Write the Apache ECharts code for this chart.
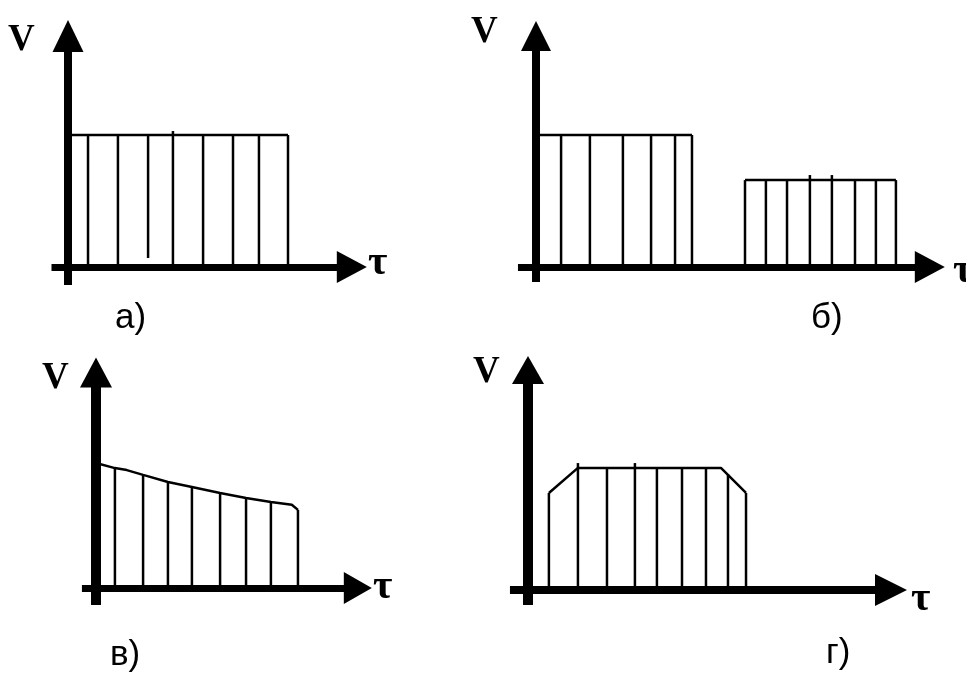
<!DOCTYPE html>
<html>
<head>
<meta charset="utf-8">
<script src="https://cdn.jsdelivr.net/npm/echarts@6/dist/echarts.min.js"></script>
<style>
html,body{margin:0;padding:0;background:#fff;}
#c{width:966px;height:673px;}
</style>
</head>
<body>
<div id="c"></div>
<script>
// ---- data (τ in relative units, V in relative units) ----
// panel а): constant velocity
const aTau  = [0.91, 2.27, 3.64, 4.77, 6.14, 7.5, 8.68, 10];
const aTop  = [6, 6, 6, 6.18, 6, 6, 6, 6];
const aBase = [0, 0, 0.41, 0, 0, 0, 0, 0];
const aEdgeTau = [0, 10];
const aEdgeV   = [6, 6];

// panel б): two stages
const bTau  = [1.14, 2.45, 3.95, 5.23, 6.32, 7.09, 9.5, 10.45, 11.41, 12.45, 13.45, 14.5, 15.45, 16.36];
const bTop  = [6, 6, 6, 6, 6, 6, 3.95, 3.95, 3.95, 4.18, 4.18, 3.95, 3.95, 3.95];
const bBase = [0, 0, 0, 0, 0, 0, 0, 0, 0, 0, 0, 0, 0, 0];
const bEdge1Tau = [0, 7.09];
const bEdge1V   = [6, 6];
const bEdge2Tau = [9.5, 16.36];
const bEdge2V   = [3.95, 3.95];

// panel в): decreasing
const vTau  = [0.86, 2.14, 3.27, 4.36, 5.64, 6.82, 7.95, 9.18];
const vTop  = [5.45, 5.14, 4.82, 4.59, 4.32, 4.09, 3.91, 3.55];
const vBase = [0, 0, 0, 0, 0, 0, 0, 0];
const vEdgeTau = [0, 0.86, 1.4, 2.14, 3.27, 4.36, 5.64, 6.82, 7.95, 8.9, 9.18];
const vEdgeV   = [5.68, 5.45, 5.36, 5.14, 4.82, 4.59, 4.32, 4.09, 3.91, 3.78, 3.55];

// panel г): ramp up, constant, ramp down
const gTau  = [0.95, 2.27, 3.59, 4.86, 5.86, 7.0, 8.09, 9.09, 9.91];
const gTop  = [4.41, 5.77, 5.55, 5.77, 5.55, 5.55, 5.55, 5.26, 4.41];
const gBase = [0, 0, 0, 0, 0, 0, 0, 0, 0];
const gEdgeTau = [0.95, 2.27, 8.77, 9.91];
const gEdgeV   = [4.41, 5.55, 5.55, 4.41];

const panelLabels = ['а)', 'б)', 'в)', 'г)'];
const yName = 'V';
const xName = 'τ';

// ---- layout ----
const S = 22; // px per unit
const layouts = [
  {origin:[68,267],  x:[-0.75,12.9], y:[-0.82,10.5], ax:[32,30], ay:[31,32], wx:7, wy:8},
  {origin:[536,267], x:[-0.82,17.9], y:[-0.68,10.5], ax:[32,30], ay:[30,30], wx:7, wy:8},
  {origin:[96,588],  x:[-0.64,11.9], y:[-0.77,9.8],  ax:[32,28], ay:[32,30], wx:7, wy:10},
  {origin:[528,590], x:[-0.82,16.5], y:[-0.68,10.0], ax:[32,32], ay:[32,28], wx:8, wy:10}
];

function zip2(a,b){ return a.map((v,i)=>[v,b[i]]); }
function zip3(a,b,c){ return a.map((v,i)=>[v,b[i],c[i]]); }

const grids=[], xAxes=[], yAxes=[], series=[];
layouts.forEach((L,i)=>{
  grids.push({
    left: L.origin[0] + L.x[0]*S,
    width: (L.x[1]-L.x[0])*S,
    top: L.origin[1] - L.y[1]*S,
    height: (L.y[1]-L.y[0])*S,
    containLabel:false
  });
  xAxes.push({gridIndex:i, type:'value', min:L.x[0], max:L.x[1],
    axisLine:{show:true, onZero:true, symbol:['none','triangle'], symbolSize:L.ax, lineStyle:{color:'#000', width:L.wx, cap:'butt'}},
    axisTick:{show:false}, axisLabel:{show:false}, splitLine:{show:false}});
  yAxes.push({gridIndex:i, type:'value', min:L.y[0], max:L.y[1],
    axisLine:{show:true, onZero:true, symbol:['none','triangle'], symbolSize:L.ay, lineStyle:{color:'#000', width:L.wy, cap:'butt'}},
    axisTick:{show:false}, axisLabel:{show:false}, splitLine:{show:false}});
});

function edge(i, tau, v){
  series.push({type:'line', xAxisIndex:i, yAxisIndex:i, data:zip2(tau,v), showSymbol:false, symbol:'none',
    lineStyle:{color:'#000', width:2.5}, silent:true, z:3});
}
function verticals(i, tau, top, base){
  series.push({type:'custom', xAxisIndex:i, yAxisIndex:i, data:zip3(tau,top,base), silent:true, z:3,
    renderItem:function(params, api){
      const p1 = api.coord([api.value(0), api.value(2)]);
      const p2 = api.coord([api.value(0), api.value(1)]);
      return {type:'line', shape:{x1:p1[0], y1:p1[1], x2:p2[0], y2:p2[1]},
        style:{stroke:'#000', lineWidth:2.5}};
    }});
}
edge(0, aEdgeTau, aEdgeV); verticals(0, aTau, aTop, aBase);
edge(1, bEdge1Tau, bEdge1V); edge(1, bEdge2Tau, bEdge2V); verticals(1, bTau, bTop, bBase);
edge(2, vEdgeTau, vEdgeV); verticals(2, vTau, vTop, vBase);
edge(3, gEdgeTau, gEdgeV); verticals(3, gTau, gTop, gBase);

// ---- texts ----
const serifB = 'bold 37px "Liberation Serif", "DejaVu Serif", serif';
const tauF = 'bold 42px "Liberation Serif", "DejaVu Serif", serif';
const lblF = '35px "Liberation Sans", Arial, sans-serif';
const vPos = [[8,22],[471,14],[42,360],[473,354]];
const tPos = [[368,242],[953,250],[373,566],[911,578]];
const lPos = [[115,301],[811,301],[110,638],[826,636]];
const graphics = [];
for (let i=0;i<4;i++){
  graphics.push({type:'text', x:vPos[i][0], y:vPos[i][1], style:{text:yName, font:serifB, fill:'#000', align:'left', verticalAlign:'top'}});
  graphics.push({type:'text', x:tPos[i][0], y:tPos[i][1], style:{text:xName, font:tauF, fill:'#000', align:'left', verticalAlign:'top'}});
  graphics.push({type:'text', x:lPos[i][0], y:lPos[i][1], style:{text:panelLabels[i], font:lblF, fill:'#000', align:'left', verticalAlign:'top'}});
}

const chart = echarts.init(document.getElementById('c'), null, {renderer:'canvas'});
chart.setOption({
  animation:false,
  backgroundColor:'#fff',
  grid:grids, xAxis:xAxes, yAxis:yAxes, series:series,
  graphic:{elements:graphics}
});
</script>
</body>
</html>
